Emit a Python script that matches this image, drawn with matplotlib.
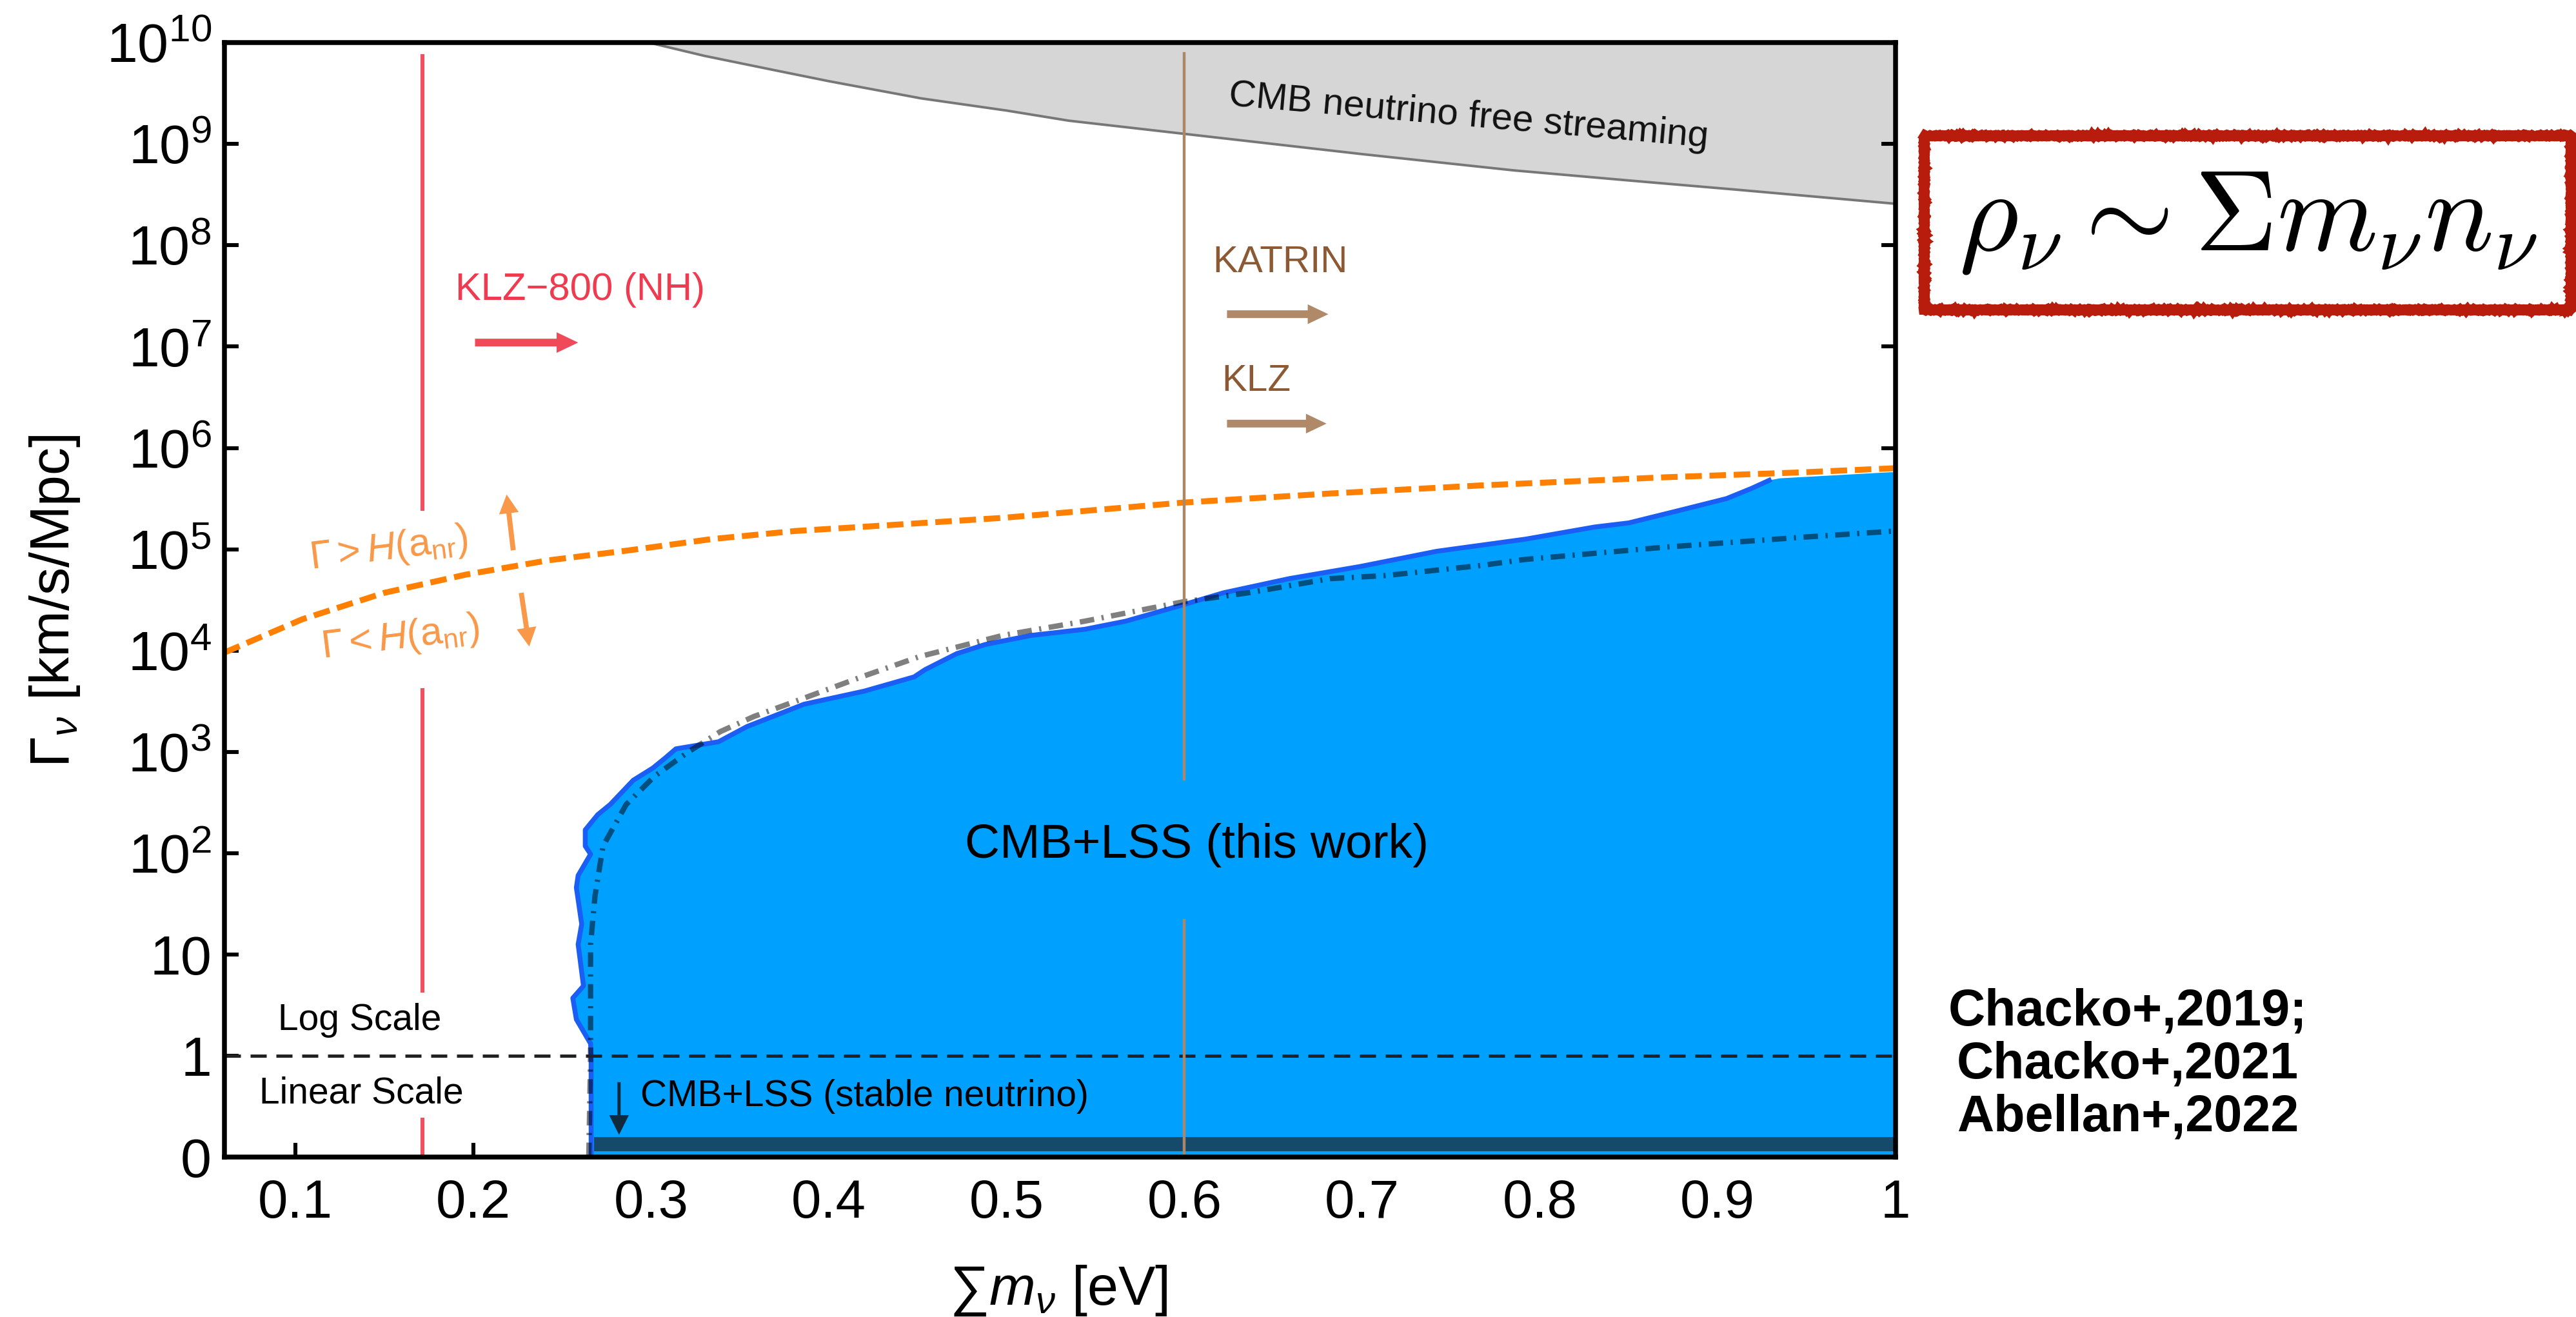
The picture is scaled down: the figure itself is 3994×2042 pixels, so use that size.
import numpy as np
import matplotlib
matplotlib.use("Agg")
import matplotlib.pyplot as plt
from matplotlib.patches import Rectangle

plt.rcParams['font.family'] = ['Liberation Sans', 'DejaVu Sans']
plt.rcParams['mathtext.fontset'] = 'custom'
plt.rcParams['mathtext.rm'] = 'Liberation Sans'
plt.rcParams['mathtext.it'] = 'Liberation Sans:italic'
plt.rcParams['mathtext.bf'] = 'Liberation Sans:bold'

# ---- data (x: sum of neutrino masses [eV], y: log10 Gamma [km/s/Mpc]) ----
# CMB neutrino free streaming boundary (grey region above it)
fs_mass = [0.299, 0.330, 0.369, 0.400, 0.452, 0.500, 0.535, 0.600, 0.700, 0.785, 0.850, 0.910, 1.000]
fs_log_gamma = [10.0, 9.87, 9.73, 9.62, 9.45, 9.33, 9.23, 9.10, 8.90, 8.74, 8.64, 8.55, 8.41]

# Gamma = H(a_nr) line
hnr_mass = [0.060, 0.104, 0.150, 0.196, 0.242, 0.288, 0.334, 0.381, 0.418,
            0.498, 0.599, 0.682, 0.767, 0.870, 0.949, 1.000]
hnr_log_gamma = [3.98, 4.31, 4.57, 4.75, 4.89, 4.99, 5.10, 5.18, 5.22,
                 5.31, 5.46, 5.55, 5.63, 5.71, 5.76, 5.80]

# CMB+LSS (this work) excluded region, upper/left boundary
this_work_mass = [0.266, 0.258, 0.256, 0.262, 0.259, 0.261, 0.258, 0.259, 0.266, 0.263,
                  0.263, 0.270, 0.277, 0.290, 0.301, 0.308, 0.314, 0.338, 0.354, 0.386,
                  0.420, 0.448, 0.454, 0.472, 0.488, 0.514, 0.544, 0.567, 0.599, 0.622,
                  0.659, 0.699, 0.742, 0.792, 0.831, 0.850, 0.880, 0.905, 0.919, 0.929]
this_work_log_gamma = [0.12, 0.36, 0.57, 0.69, 1.10, 1.30, 1.66, 1.78, 1.99, 2.07,
                       2.23, 2.38, 2.48, 2.72, 2.84, 2.94, 3.03, 3.10, 3.25, 3.47,
                       3.60, 3.74, 3.81, 3.97, 4.06, 4.15, 4.21, 4.29, 4.45, 4.57,
                       4.71, 4.83, 4.98, 5.10, 5.22, 5.26, 5.39, 5.50, 5.60, 5.68]
this_work_edge_mass = 0.2663          # vertical edge in the linear part
this_work_cap_mass = [0.935, 0.997, 1.000]
this_work_cap_log_gamma = [5.70, 5.76, 5.76]

# previous results (Chacko+ / Abellan+), dash-dot
prev_lin_mass = [0.265, 0.266]
prev_lin_gamma = [0.0, 1.0]
prev_mass = [0.266, 0.266, 0.2685, 0.273, 0.286, 0.302, 0.321, 0.339, 0.358, 0.386,
             0.420, 0.451, 0.498, 0.544, 0.599, 0.636, 0.682, 0.713, 0.767, 0.792,
             0.870, 0.949, 1.000]
prev_log_gamma = [0.24, 1.10, 1.58, 2.07, 2.48, 2.76, 3.00, 3.20, 3.35, 3.53,
                  3.75, 3.94, 4.15, 4.29, 4.48, 4.57, 4.71, 4.74, 4.84, 4.90,
                  5.02, 5.12, 5.18]

# stable neutrino bound (dark strip in the linear part)
stable_mass = [0.268, 1.0]
stable_gamma = [0.06, 0.20]

# vertical mass limits
klz800_mass = 0.1715
klz800_segments = [(10 ** 9.87, 10 ** 5.40), (10 ** 3.61, 10 ** 0.64), (0.37, 0.0)]
katrin_mass = 0.600
katrin_segments = [(10 ** 9.89, 10 ** 2.73), (10 ** 1.34, 0.0)]

xticks = [0.1, 0.2, 0.3, 0.4, 0.5, 0.6, 0.7, 0.8, 0.9, 1.0]
xtick_labels = ['0.1', '0.2', '0.3', '0.4', '0.5', '0.6', '0.7', '0.8', '0.9', '1']
yticks = [0, 1, 10, 1e2, 1e3, 1e4, 1e5, 1e6, 1e7, 1e8, 1e9, 1e10]
ytick_labels = ['0', '1', '10', r'$10^{2}$', r'$10^{3}$', r'$10^{4}$', r'$10^{5}$',
                r'$10^{6}$', r'$10^{7}$', r'$10^{8}$', r'$10^{9}$', r'$10^{10}$']


def pw(v):
    return [10 ** g for g in v]


# linear below 1, log above 1
def fwd(y):
    y = np.asarray(y, dtype=float)
    return np.where(y <= 1, y, 1 + np.log10(np.maximum(y, 1)))


def inv(t):
    t = np.asarray(t, dtype=float)
    return np.where(t <= 1, t, 10 ** (np.minimum(t, 300) - 1))


fig = plt.figure(figsize=(19.97, 10.21), dpi=200)
ax = fig.add_axes([0.0871, 0.1214, 0.6487, 0.8462])
ax.set_yscale('function', functions=(fwd, inv))
ax.set_xlim(0.06, 1.0)
ax.set_ylim(0, 1e10)

# grey free streaming region
ax.fill_between(fs_mass, pw(fs_log_gamma), 1e10, color='#d6d6d6', lw=0, zorder=1)
ax.plot(fs_mass, pw(fs_log_gamma), color='#777777', lw=1.4, zorder=1.5)

# blue region
bx = [this_work_edge_mass, this_work_edge_mass] + this_work_mass + this_work_cap_mass + [1.0]
by = [0.0, 1.0] + pw(this_work_log_gamma) + pw(this_work_cap_log_gamma) + [0.0]
ax.fill(bx, by, color='#00a0ff', lw=0, zorder=2)
ax.plot([this_work_edge_mass, this_work_edge_mass] + this_work_mass,
        [0.0, 1.0] + pw(this_work_log_gamma), color='#1b5ef5', lw=2.7, zorder=3)

# stable neutrino strip
ax.fill_between(stable_mass, stable_gamma[0], stable_gamma[1], color='#154a6a', lw=0, zorder=2.5)

# previous dash-dot result
ln, = ax.plot(prev_lin_mass + prev_mass, prev_lin_gamma + pw(prev_log_gamma),
              color='black', alpha=0.5, lw=3.0, zorder=3.5)
ln.set_dashes([2.7, 1.4, 0.4, 1.4])

# Gamma = H(a_nr)
ln, = ax.plot(hnr_mass, pw(hnr_log_gamma), color='#ff8000', lw=3.3, zorder=4)
ln.set_dashes([2.8, 1.3])

# y = 1 separator
ln = ax.axhline(1, color='#222222', lw=1.8, zorder=4)
ln.set_dashes([5, 3])

# vertical limits
for y0, y1 in klz800_segments:
    ax.plot([klz800_mass, klz800_mass], [y0, y1], color='#f0505f', lw=2.2, zorder=4)
for y0, y1 in katrin_segments:
    ax.plot([katrin_mass, katrin_mass], [y0, y1], color='#aa8769', lw=1.6, zorder=4)


def block_arrow(x0, y0, x1, y1, color, tail, head_w, head_l):
    ax.annotate('', xy=(x1, y1), xytext=(x0, y0), zorder=6,
                arrowprops=dict(arrowstyle='simple,head_length=%g,head_width=%g,tail_width=%g'
                                % (head_l, head_w, tail),
                                color=color, lw=0, shrinkA=0, shrinkB=0, mutation_scale=1))


block_arrow(0.201, 10 ** 7.04, 0.259, 10 ** 7.04, '#f04a5a', 4.3, 11.5, 12)
block_arrow(0.624, 10 ** 7.32, 0.681, 10 ** 7.32, '#b08968', 4.3, 11, 11.5)
block_arrow(0.624, 10 ** 6.24, 0.680, 10 ** 6.24, '#b08968', 4.3, 11, 11.5)
block_arrow(0.2225, 10 ** 4.99, 0.2188, 10 ** 5.54, '#f89848', 2.8, 11, 10.5)
block_arrow(0.227, 10 ** 4.57, 0.2315, 10 ** 4.04, '#f89848', 2.8, 11, 10.5)
block_arrow(0.282, 0.74, 0.282, 0.22, '#0f2a3c', 1.8, 11, 11)

# labels inside the axes
ax.text(0.260, 10 ** 7.56, 'KLZ\u2212800 (NH)', color='#ee3b50', fontsize=21.5,
        ha='center', va='center', zorder=6)
ax.text(0.616, 10 ** 7.83, 'KATRIN', color='#8b5a34', fontsize=21,
        ha='left', va='center', zorder=6)
ax.text(0.621, 10 ** 6.66, 'KLZ', color='#8b5a34', fontsize=21,
        ha='left', va='center', zorder=6)
ax.text(0.760, 10 ** 9.27, 'CMB neutrino free streaming', color='#111111', fontsize=21,
        ha='center', va='center', rotation=-5, zorder=6)
ax.text(0.1525, 10 ** 5.0, r'$\mathit{\Gamma} > \mathit{H}(\mathrm{a}_{\mathrm{nr}})$',
        color='#f89848', fontsize=22, ha='center', va='center', rotation=7, zorder=6)
ax.text(0.159, 10 ** 4.12, r'$\mathit{\Gamma} < \mathit{H}(\mathrm{a}_{\mathrm{nr}})$',
        color='#f89848', fontsize=22, ha='center', va='center', rotation=7, zorder=6)
ax.text(0.136, 10 ** 0.35, 'Log Scale', fontsize=20.5, ha='center', va='center', zorder=6)
ax.text(0.137, 0.63, 'Linear Scale', fontsize=20.5, ha='center', va='center', zorder=6)
ax.text(0.607, 10 ** 2.08, 'CMB+LSS (this work)', fontsize=27, ha='center', va='center', zorder=6)
ax.text(0.294, 0.60, 'CMB+LSS (stable neutrino)', fontsize=20.5,
        ha='left', va='center', zorder=6)

# axes styling
ax.set_xticks(xticks)
ax.set_xticklabels(xtick_labels)
ax.set_yticks(yticks)
ax.minorticks_off()
ax.tick_params(axis='both', which='major', direction='in', length=8, width=2.2,
               right=True, top=False)
ax.tick_params(axis='x', labelsize=30, pad=12)
ax.tick_params(axis='y', labelleft=False)
for sp in ax.spines.values():
    sp.set_linewidth(2.7)
    sp.set_zorder(7)

# y tick labels: digits centred on the tick, exponent sticking out above
for yv, lab in zip(yticks, ytick_labels):
    ax.annotate(lab, xy=(0, yv), xycoords=('axes fraction', 'data'),
                xytext=(-7.2, -11.1), textcoords='offset points',
                ha='right', va='baseline', fontsize=31, annotation_clip=False)

fig.text(0.0213, 0.544, r'$\Gamma_{\nu}$ [km/s/Mpc]', rotation=90, fontsize=31,
         ha='center', va='center')
fig.text(0.411, 0.0095, '\u2211' + r'$m_{\nu}$ [eV]', fontsize=31, ha='center', va='baseline')

# formula box on the right
box = Rectangle((0.7469, 0.7649), 0.998 - 0.7469, 0.8972 - 0.7649, transform=fig.transFigure,
                fill=False, edgecolor='#b71c0c', lw=5.4, clip_on=False)
box.set_sketch_params(scale=1.2, length=6, randomness=2)
fig.add_artist(box)
fig.text(0.8726, 0.831, r'$\rho_\nu \sim \Sigma m_\nu n_\nu$', math_fontfamily='cm',
         fontsize=64, ha='center', va='center')

fig.text(0.826, 0.1915, 'Chacko+,2019;\nChacko+,2021\nAbellan+,2022', fontsize=28.5,
         fontweight='bold', ha='center', va='center', linespacing=1.12)

fig.savefig('out.png', dpi=200)
